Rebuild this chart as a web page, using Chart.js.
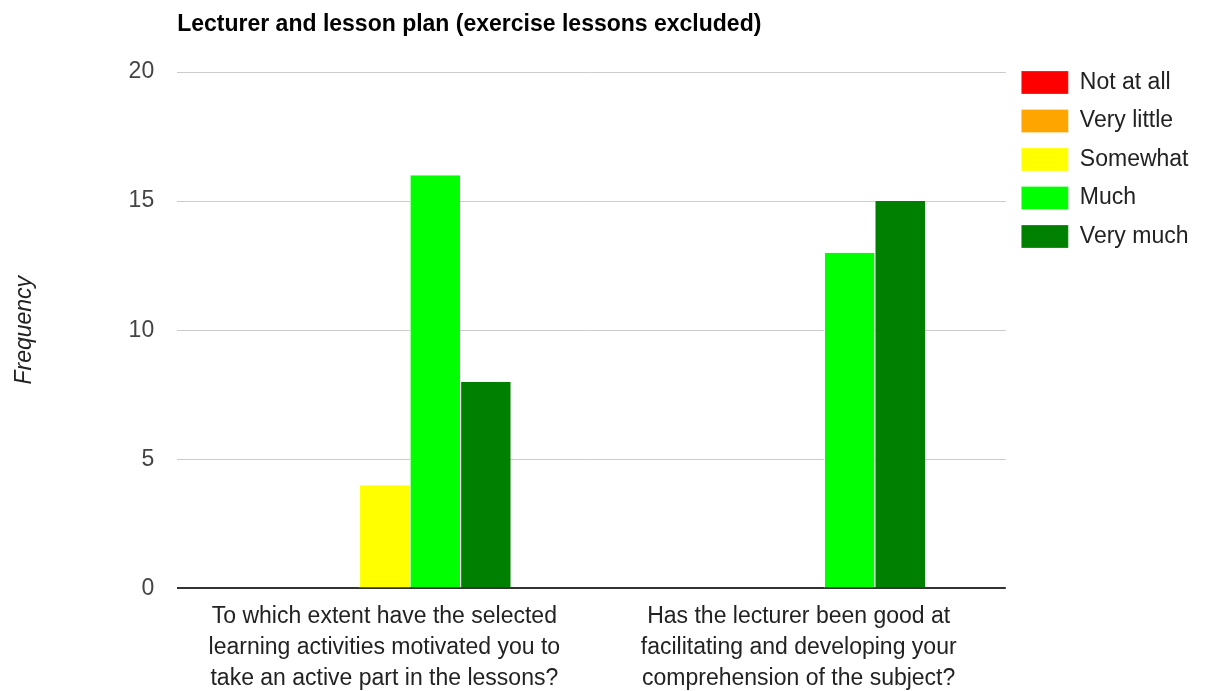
<!DOCTYPE html>
<html>
<head>
<meta charset="utf-8">
<script src="https://cdn.jsdelivr.net/npm/chart.js@4.4.1/dist/chart.umd.min.js"></script>
<style>
  body { margin: 0; background: #fff; }
  #wrap { width: 1211px; height: 691px; }
</style>
</head>
<body>
<div id="wrap"><canvas id="grafico" width="1211" height="691"></canvas></div>
<script>
const categorias = [
    ['To which extent have the selected', 'learning activities motivated you to', 'take an active part in the lessons?'],
    ['Has the lecturer been good at', 'facilitating and developing your', 'comprehension of the subject?']
];
const notAtAll = [0, 0];
const veryLittle = [0, 0];
const somewhat = [4, 0];
const much = [16, 13];
const veryMuch = [8, 15];

const FONTE = '"Liberation Sans", Arial, sans-serif';

const serie = (label, data, cor) => ({
    label, data, backgroundColor: cor,
    borderColor: '#fff', borderWidth: { left: 1, right: 0, top: 0, bottom: 0 }
});

new Chart(document.getElementById('grafico'), {
    type: 'bar',
    data: {
        labels: categorias,
        datasets: [
            serie('Not at all', notAtAll, '#ff0000'),
            serie('Very little', veryLittle, '#ffa500'),
            serie('Somewhat', somewhat, '#ffff00'),
            serie('Much', much, '#00ff00'),
            serie('Very much', veryMuch, '#008000')
        ]
    },
    options: {
        responsive: false,
        animation: false,
        layout: { padding: { top: 55.5, left: 0, right: 12.5, bottom: -15.5 } },
        datasets: { bar: { categoryPercentage: 0.61, barPercentage: 1 } },
        scales: {
            x: {
                grid: { display: false, drawTicks: false },
                border: { display: false },
                ticks: { color: '#222', font: { family: FONTE, size: 23, lineHeight: 1.348 }, padding: 12.5, maxRotation: 0, autoSkip: false }
            },
            y: {
                min: 0, max: 20,
                grid: {
                    color: (c) => c.tick && c.tick.value === 0 ? '#333' : '#ccc',
                    lineWidth: (c) => c.tick && c.tick.value === 0 ? 2 : 1,
                    drawTicks: false
                },
                border: { display: false },
                ticks: { stepSize: 5, color: '#444', font: { family: FONTE, size: 23 }, padding: 23 },
                title: { display: true, text: 'Frequency', color: '#222', font: { family: FONTE, size: 23, style: 'italic' }, padding: { top: 11, bottom: 67 } }
            }
        },
        plugins: {
            // titulo sobe para o topo com padding negativo, alinhado com a area do grafico
            title: {
                display: true,
                text: 'Lecturer and lesson plan (exercise lessons excluded)',
                align: 'start',
                fullSize: false,
                color: '#000',
                font: { family: FONTE, size: 23, weight: 'bold' },
                padding: { top: -44.3, bottom: 33.2 }
            },
            tooltip: { enabled: false },
            legend: {
                position: 'right',
                align: 'start',
                labels: {
                    boxWidth: 47, boxHeight: 23,
                    color: '#222',
                    font: { family: FONTE, size: 23 },
                    padding: 15.5
                }
            }
        }
    }
});
</script>
</body>
</html>
